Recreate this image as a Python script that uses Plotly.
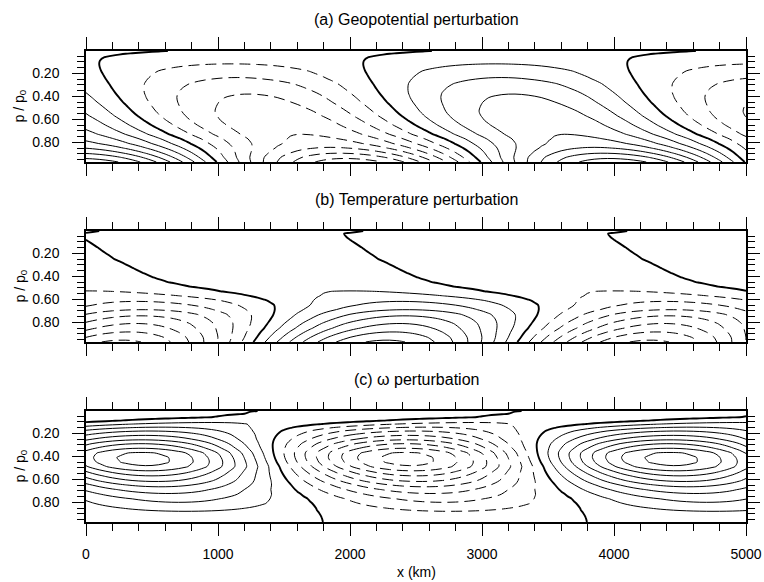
import numpy as np
import plotly.graph_objects as go

# ---------------- data ----------------
# pressure levels (p / p0) at which the vertical structure was read
P_LEVELS = [0.006, 0.03, 0.06, 0.09, 0.12, 0.15, 0.18, 0.21, 0.25, 0.29, 0.33,
            0.37, 0.41, 0.45, 0.49, 0.53, 0.57, 0.61, 0.65, 0.69, 0.73, 0.77,
            0.81, 0.85, 0.89, 0.93, 0.971]
X_KM = list(range(0, 5001, 50))
WAVELENGTH_KM = 4000

# (a) geopotential: amplitude (contour units) and x of the positive maximum (km)
GEO_AMP = [0.3, 0.4, 0.55, 0.75, 1.02, 1.3, 1.6, 1.8, 2.1, 2.45, 2.7, 2.95,
           3.15, 3.3, 3.45, 3.6, 3.7, 3.8, 3.85, 3.9, 4.0, 4.2, 4.5, 5.1,
           5.9, 6.8, 7.6]
GEO_RIDGE = [-380, -700, -860, -895, -900, -895, -885, -870, -850, -825, -803,
             -778, -750, -720, -685, -650, -610, -560, -505, -440, -370, -280,
             -210, -142, -90, -50, -10]

# (b) temperature
TEMP_AMP = [0.5, 0.5, 0.5, 0.5, 0.5, 0.5, 0.5, 0.5, 0.5, 0.5, 0.5, 0.5, 0.55,
            0.6, 0.7, 1.03, 1.35, 1.9, 2.4, 3.0, 3.8, 4.4, 5.0, 5.5, 6.1, 6.7,
            7.2]
TEMP_RIDGE = [1100, 955, 975, 1010, 1050, 1090, 1125, 1165, 1215, 1290, 1360,
              1430, 1510, 1620, 1790, 2020, 2240, 2370, 2425, 2430, 2420, 2400,
              2375, 2350, 2320, 2295, 2268]

# (c) omega
OMEGA_AMP = [0.1, 0.3, 0.5, 0.8, 1.3, 2.1, 3.0, 3.8, 4.8, 6.0, 7.0, 8.1, 8.4,
             8.35, 7.9, 6.9, 6.0, 5.2, 4.3, 3.5, 2.9, 2.3, 1.9, 1.35, 0.85,
             0.45, 0.15]
OMEGA_RIDGE = [2300, 2200, 1950, 1250, 780, 560, 480, 450, 425, 415, 415, 420,
               430, 445, 465, 480, 500, 525, 555, 585, 630, 680, 715, 742, 765,
               785, 795]

TITLES = ["(a) Geopotential perturbation", "(b) Temperature perturbation",
          "(c) \u03c9 perturbation"]
X_TITLE = "x (km)"
Y_TITLE = "p / p<sub>0</sub>"


def wave_field(amp, ridge):
    x = np.array(X_KM, dtype=float)[None, :]
    a = np.array(amp, dtype=float)[:, None]
    r = np.array(ridge, dtype=float)[:, None]
    return a * np.cos(2 * np.pi * (x - r) / WAVELENGTH_KM)


FIELDS = [wave_field(GEO_AMP, GEO_RIDGE),
          wave_field(TEMP_AMP, TEMP_RIDGE),
          wave_field(OMEGA_AMP, OMEGA_RIDGE)]

# ---------------- figure ----------------
FONT = "Liberation Sans, Arial, Helvetica, sans-serif"
W, H = 764, 582
ML, MR, MT, MB = 86, 18, 51, 60
PH = H - MT - MB
panel_tops = [51, 231, 411]
panel_h = 111


def py(ypx):
    return (H - MB - ypx) / PH


fig = go.Figure()

for i, z in enumerate(FIELDS):
    xa = "x" if i == 0 else f"x{i+1}"
    ya = "y" if i == 0 else f"y{i+1}"
    common = dict(x=X_KM, y=P_LEVELS, z=z, xaxis=xa, yaxis=ya,
                  showscale=False, hoverinfo="skip", autocontour=False,
                  showlegend=False)
    fig.add_trace(go.Contour(
        **common,
        contours=dict(start=-12, end=-1, size=1, coloring="none"),
        line=dict(color="black", width=1.0, dash="11px,6px", smoothing=1)))
    fig.add_trace(go.Contour(
        **common,
        contours=dict(start=1, end=12, size=1, coloring="none"),
        line=dict(color="black", width=1.0, smoothing=1)))
    fig.add_trace(go.Contour(
        **common,
        contours=dict(start=0, end=0, size=1, coloring="none"),
        line=dict(color="black", width=1.9, smoothing=1)))

layout = dict(
    template="none",
    width=W, height=H,
    margin=dict(l=ML, r=MR, t=MT, b=MB, pad=0, autoexpand=False),
    paper_bgcolor="white", plot_bgcolor="white",
    font=dict(family=FONT, size=14, color="black"),
    showlegend=False,
)

for i in range(3):
    top = panel_tops[i]
    dom = [py(top + panel_h), py(top)]
    xk = "xaxis" if i == 0 else f"xaxis{i+1}"
    yk = "yaxis" if i == 0 else f"yaxis{i+1}"
    ya = "y" if i == 0 else f"y{i+1}"
    xa = "x" if i == 0 else f"x{i+1}"
    layout[xk] = dict(
        domain=[0, 1], anchor=ya, range=[0, 5000], automargin=False,
        tickmode="linear", tick0=0, dtick=1000,
        ticks="outside", ticklen=12, tickwidth=1, tickcolor="black",
        showline=True, linecolor="black", linewidth=2, mirror="allticks",
        showgrid=False, zeroline=False,
        showticklabels=(i == 2), ticklabelstandoff=6,
        tickfont=dict(size=14, family=FONT, color="black"),
        minor=dict(tick0=0, dtick=200, ticks="outside", ticklen=7,
                   tickwidth=1, tickcolor="black", showgrid=False),
    )
    layout[yk] = dict(
        domain=dom, anchor=xa, range=[0.971, 0.006], automargin=False,
        tickmode="linear", tick0=0, dtick=0.2, tickformat=".2f",
        ticks="outside", ticklen=12, tickwidth=1, tickcolor="black",
        showline=True, linecolor="black", linewidth=1.5, mirror="allticks",
        showgrid=False, zeroline=False, ticklabelstandoff=10,
        tickfont=dict(size=14, family=FONT, color="black"),
        minor=dict(tick0=0, dtick=0.05, ticks="outside", ticklen=7,
                   tickwidth=1, tickcolor="black", showgrid=False),
    )

annotations = []
for i in range(3):
    top = panel_tops[i]
    annotations.append(dict(
        text=TITLES[i], xref="paper", yref="paper", x=0.5, y=py(top - 32),
        xanchor="center", yanchor="middle", showarrow=False,
        font=dict(size=16, family=FONT, color="black")))
    annotations.append(dict(
        text=Y_TITLE, xref="paper", yref="paper", x=(20 - ML) / (W - ML - MR),
        y=py(top + panel_h / 2), xanchor="center", yanchor="middle",
        textangle=-90, showarrow=False,
        font=dict(size=14, family=FONT, color="black")))
annotations.append(dict(
    text=X_TITLE, xref="paper", yref="paper", x=0.5, y=py(572),
    xanchor="center", yanchor="middle", showarrow=False,
    font=dict(size=14, family=FONT, color="black")))
layout["annotations"] = annotations

fig.update_layout(**layout)
fig.write_html("out.html")
